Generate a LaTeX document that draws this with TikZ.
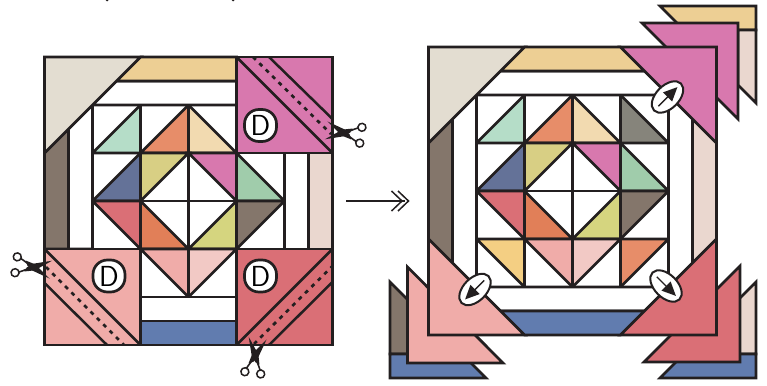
\documentclass[tikz,border=0pt]{standalone}
\usepackage{fontspec}
\setmainfont{Liberation Sans}
\definecolor{ink}{HTML}{231F20}
\definecolor{cBone}{HTML}{E3DDD1}
\definecolor{cTan}{HTML}{EDCF94}
\definecolor{cBrown}{HTML}{84766B}
\definecolor{cBlush}{HTML}{EAD7CF}
\definecolor{cBlue}{HTML}{617CAF}
\definecolor{cMint}{HTML}{B5DDC8}
\definecolor{cOrange}{HTML}{E78D69}
\definecolor{cCream}{HTML}{F2DAB0}
\definecolor{cSlate}{HTML}{647298}
\definecolor{cOlive}{HTML}{D8CF84}
\definecolor{cPink}{HTML}{D878AE}
\definecolor{cSage}{HTML}{A0CCAB}
\definecolor{cRed}{HTML}{DA6F76}
\definecolor{cRust}{HTML}{E17F58}
\definecolor{cLime}{HTML}{D5D57F}
\definecolor{cSalmon}{HTML}{F0ACA9}
\definecolor{cRose}{HTML}{F2C9C5}
\definecolor{cGray}{HTML}{86847B}
\definecolor{cGold}{HTML}{F4CF83}
\tikzset{
  patch/.style={draw=ink,line width=2.7pt,line join=miter,fill=#1},
  patch/.default=white,
  seam/.style={draw=ink,line width=2.5pt},
  cutline/.style={draw=ink,line width=2.7pt,dash pattern=on 4pt off 5pt},
  dlabel/.style={draw=ink,line width=2.7pt,fill=white,minimum width=32pt,minimum height=32pt,rounded corners=14.5pt,inner sep=0pt,font=\sffamily\fontsize{29}{29}\selectfont},
  ringstyle/.style={draw=ink,line width=1.5pt,fill=white},
}
\newcommand{\innerquilt}{%
  \fill[white] (0,0) rectangle (192,192);
  \path[patch=cMint] (48,0)--(48,48)--(0,48)--cycle;
  \path[patch=cOrange] (96,0)--(96,48)--(48,48)--cycle;
  \path[patch=cCream] (96,0)--(96,48)--(144,48)--cycle;
  \path[patch=cSlate] (48,48)--(48,96)--(0,96)--cycle;
  \path[patch=cOlive] (48,48)--(96,48)--(48,96)--cycle;
  \path[patch=cPink] (96,48)--(144,48)--(144,96)--cycle;
  \path[patch=cSage] (144,48)--(144,96)--(192,96)--cycle;
  \path[patch=cRed] (0,96)--(48,96)--(48,144)--cycle;
  \path[patch=cRust] (48,96)--(48,144)--(96,144)--cycle;
  \path[patch=cLime] (144,96)--(144,144)--(96,144)--cycle;
  \path[patch=cBrown] (144,96)--(192,96)--(144,144)--cycle;
  \path[patch=cSalmon] (48,144)--(96,144)--(96,192)--cycle;
  \path[patch=cRose] (96,144)--(144,144)--(96,192)--cycle;
  \draw[seam] (0,0) rectangle (192,192);
  \draw[seam] (48,0)--(48,192) (96,0)--(96,192) (144,0)--(144,192)
              (0,48)--(192,48) (0,96)--(192,96) (0,144)--(192,144);
}
\newcommand{\scis}[3]{%
  \begin{scope}[shift={(#1,#2)},rotate=#3]
    \fill[ink] (19,9)--(3,-3)--(-7,-5.5)--(-5,-1)--(1,3.5)--cycle;
    \fill[ink] (19,-9)--(3,3)--(-7,5.5)--(-5,1)--(1,-3.5)--cycle;
    \draw[ink,line width=1.6pt] (-5,-3)..controls (-8,-4.5) and (-10,-6) .. (-12.5,-7);
    \draw[ink,line width=1.6pt] (-5,3)..controls (-8,4.5) and (-10,6) .. (-12.5,7);
    \path[ringstyle] (-16,-8) circle (4);
    \path[ringstyle] (-16,8) circle (4);
  \end{scope}}
\newcommand{\ovalarrow}[3]{%
  \begin{scope}[shift={(#1,#2)},rotate=#3]
    \path[draw=ink,line width=2pt,fill=white] (0,0) ellipse [x radius=19,y radius=11.5];
    \draw[ink,line width=1.4pt] (-13,0)--(3,0);
    \fill[ink] (14,0)--(0,-6.5)--(0,6.5)--cycle;
  \end{scope}}
\begin{document}
\begin{tikzpicture}[x=1pt,y=-1pt]
\useasboundingbox (0,0) rectangle (767,385);
\fill[ink] (107,0) circle (1.5) (233,0) circle (1.5);
% left block
\begin{scope}[shift={(92.5,105)}]\innerquilt\end{scope}
\path[patch] (116.5,81)--(236.5,81)--(236.5,105)--(92.5,105)--cycle;
\path[patch] (68.5,129)--(92.5,105)--(92.5,249)--(68.5,249)--cycle;
\path[patch] (284.5,153)--(308.5,153)--(308.5,249)--(284.5,249)--cycle;
\path[patch] (140.5,297)--(236.5,297)--(236.5,321)--(140.5,321)--cycle;
\path[patch=cTan] (140.5,57)--(236.5,57)--(236.5,81)--(116.5,81)--cycle;
\path[patch=cBrown] (44.5,153)--(68.5,129)--(68.5,249)--(44.5,249)--cycle;
\path[patch=cBlush] (308.5,153)--(332.5,153)--(332.5,249)--(308.5,249)--cycle;
\path[patch=cBlue] (140.5,321)--(236.5,321)--(236.5,345)--(140.5,345)--cycle;
\path[patch=cBone] (44.5,57)--(140.5,57)--(44.5,153)--cycle;
\path[patch=cPink] (236.5,57) rectangle (332.5,153);
\path[patch=cSalmon] (44.5,249) rectangle (140.5,345);
\path[patch=cRed] (236.5,249) rectangle (332.5,345);
\draw[seam] (236.5,57)--(332.5,153) (269,57)--(332.5,119);
\draw[cutline] (253,57)--(331,134);
\draw[seam] (44.5,249)--(140.5,345) (44.5,283)--(107,345);
\draw[cutline] (46,267)--(124,345);
\draw[seam] (236.5,345)--(332.5,249) (269,345)--(332.5,282);
\draw[cutline] (254,344)--(332.5,266);
\node[dlabel] (dTop) at (260.5,125.5) {D};
\node[dlabel] (dLeft) at (109,276) {D};
\node[dlabel] (dRight) at (260.5,276) {D};
\scis{345}{133}{172}
\scis{32}{267}{-8}
\scis{255}{357}{82}
% connector
\coordinate (arrowfrom) at (346,201);
\coordinate (arrowto) at (405,201);
\draw[ink,line width=2.2pt] (arrowfrom)--(arrowto);
\draw[ink,line width=1.5pt] (398,191)--(408.5,201)--(398,211) (391.5,191)--(402,201)--(391.5,211);
% stacked pieces behind, right block
\path[patch=cTan] (660,6)--(756,6)--(756,30)--(684,30)--cycle;
\path[patch=cBlush] (738,30)--(756,30)--(756,103)--(738,85)--cycle;
\path[patch=cPink] (642,23)--(738,23)--(738,119)--cycle;
\path[patch=cBrown] (390,282)--(408,300)--(408,354)--(390,354)--cycle;
\path[patch=cBlue] (390,354)--(462,354)--(486,378)--(390,378)--cycle;
\path[patch=cSalmon] (407.5,267)--(503,363)--(407.5,363)--cycle;
\path[patch=cBlush] (756,282)--(756,354)--(738,354)--(738,300)--cycle;
\path[patch=cBlue] (684,354)--(756,354)--(756,378)--(660,378)--cycle;
\path[patch=cRed] (740,266)--(740,362)--(644,362)--cycle;
% right block
\begin{scope}[shift={(476.5,95)}]
  \innerquilt
  \path[patch=cGray] (144,0)--(144,48)--(192,48)--cycle;
  \path[patch=cGold] (0,144)--(48,144)--(48,192)--cycle;
  \path[patch=cOrange] (144,144)--(192,144)--(144,192)--cycle;
\end{scope}
\path[patch] (500.5,71)--(644.5,71)--(668.5,95)--(476.5,95)--cycle;
\path[patch] (452.5,119)--(476.5,95)--(476.5,287)--(452.5,263)--cycle;
\path[patch] (668.5,95)--(692.5,119)--(692.5,263)--(668.5,287)--cycle;
\path[patch] (476.5,287)--(668.5,287)--(644.5,311)--(500.5,311)--cycle;
\path[patch=cTan] (524.5,47)--(620.5,47)--(644.5,71)--(500.5,71)--cycle;
\path[patch=cBrown] (428.5,143)--(452.5,119)--(452.5,263)--(428.5,239)--cycle;
\path[patch=cBlush] (692.5,119)--(716.5,143)--(716.5,239)--(692.5,263)--cycle;
\path[patch=cBlue] (500.5,311)--(644.5,311)--(620.5,335)--(524.5,335)--cycle;
\path[patch=cBone] (428.5,47)--(524.5,47)--(428.5,143)--cycle;
\path[patch=cPink] (620.5,47)--(716.5,47)--(716.5,143)--cycle;
\path[patch=cSalmon] (428.5,239)--(524.5,335)--(428.5,335)--cycle;
\path[patch=cRed] (716.5,239)--(716.5,335)--(620.5,335)--cycle;
\ovalarrow{667.5}{97}{45}
\ovalarrow{475}{289.5}{225}
\ovalarrow{666}{286}{-45}
\end{tikzpicture}
\end{document}
